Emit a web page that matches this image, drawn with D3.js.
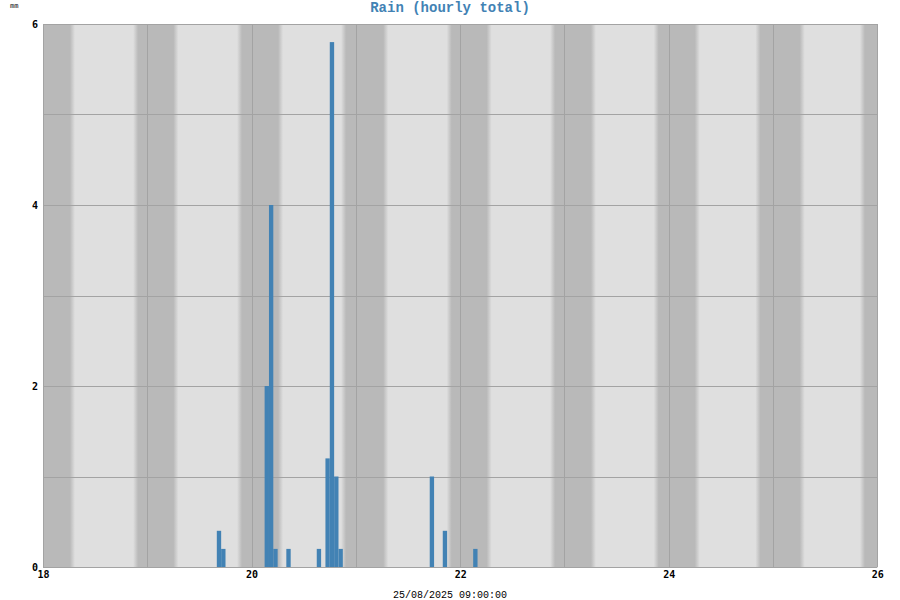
<!DOCTYPE html>
<html>
<head>
<meta charset="utf-8">
<script src="https://cdn.jsdelivr.net/npm/d3@7"></script>
<style>
  html, body { margin: 0; padding: 0; background: #ffffff; }
  svg { display: block; }
</style>
</head>
<body>
<svg id="chart" width="900" height="600"></svg>
<script>
// ---- Data ----
const title = "Rain (hourly total)";
const unitLabel = "mm";
const xAxisLabel = "25/08/2025 09:00:00";
// hourly bars: start of each hour, value in mm
const barTimes = [
  "2025-08-19 16:00", "2025-08-19 17:00",
  "2025-08-20 03:00", "2025-08-20 04:00", "2025-08-20 05:00",
  "2025-08-20 08:00", "2025-08-20 15:00",
  "2025-08-20 17:00", "2025-08-20 18:00", "2025-08-20 19:00", "2025-08-20 20:00",
  "2025-08-21 17:00", "2025-08-21 20:00",
  "2025-08-22 03:00"
];
const barValues = [0.4, 0.2, 2.0, 4.0, 0.2, 0.2, 0.2, 1.2, 5.8, 1.0, 0.2, 1.0, 0.4, 0.2];
const xDomain = ["2025-08-18 00:00", "2025-08-26 00:00"];
const xTickLabels = ["18", "20", "22", "24", "26"];
const yTicks = [0, 2, 4, 6];
const yDomain = [0, 6];
// day/night shading: day dates and approx. sunrise/sunset hours
const days = ["2025-08-18", "2025-08-19", "2025-08-20", "2025-08-21", "2025-08-22", "2025-08-23", "2025-08-24", "2025-08-25"];
const sunriseHours = [6.2, 6.0, 6.1, 6.3, 6.1, 6.1, 6.0, 6.15];
const sunsetHours = [20.75, 20.65, 20.6, 20.9, 20.7, 20.55, 19.95, 20.0];
const twilightHours = 1.15;

// ---- Layout ----
const W = 900, H = 600;
const m = { left: 43, right: 900 - 877.3, top: 24, bottom: 600 - 567 };
const pw = W - m.left - m.right, ph = H - m.top - m.bottom;

const parse = d3.utcParse("%Y-%m-%d %H:%M");
const parseDay = d3.utcParse("%Y-%m-%d");

const x = d3.scaleUtc().domain(xDomain.map(parse)).range([m.left, m.left + pw]);
const y = d3.scaleLinear().domain(yDomain).range([m.top + ph, m.top]);

const svg = d3.select("#chart");
const defs = svg.append("defs");

const DARK = "#b9b9b9", LIGHT = "#dfdfdf";
// Build gradient stops for day/night shading
const grad = defs.append("linearGradient")
  .attr("id", "daynight")
  .attr("gradientUnits", "userSpaceOnUse")
  .attr("x1", m.left).attr("x2", m.left + pw)
  .attr("y1", 0).attr("y2", 0);
const off = t => (x(t) - m.left) / pw;
const stops = [];
days.forEach((d, i) => {
  const base = parseDay(d);
  const h = hh => new Date(base.getTime() + hh * 3600e3);
  stops.push([off(h(sunriseHours[i])), DARK]);
  stops.push([off(h(sunriseHours[i] + twilightHours)), LIGHT]);
  stops.push([off(h(sunsetHours[i])), LIGHT]);
  stops.push([off(h(sunsetHours[i] + twilightHours)), DARK]);
});
grad.append("stop").attr("offset", 0).attr("stop-color", DARK);
stops.forEach(s => grad.append("stop").attr("offset", Math.max(0, Math.min(1, s[0]))).attr("stop-color", s[1]));
grad.append("stop").attr("offset", 1).attr("stop-color", DARK);

svg.append("rect")
  .attr("x", m.left).attr("y", m.top)
  .attr("width", pw).attr("height", ph)
  .attr("fill", "url(#daynight)");

// Grid
const GRID = "#a3a3a3";
const dayTicks = d3.utcDay.range(parse(xDomain[0]), d3.utcDay.offset(parse(xDomain[1]), 1));
svg.append("g").selectAll("line").data(dayTicks).join("line")
  .attr("x1", d => Math.round(x(d)) + 0.5).attr("x2", d => Math.round(x(d)) + 0.5)
  .attr("y1", m.top).attr("y2", m.top + ph)
  .attr("stroke", GRID).attr("stroke-width", 1);
const yGrid = d3.range(yDomain[0], yDomain[1] + 1, 1);
svg.append("g").selectAll("line").data(yGrid).join("line")
  .attr("x1", m.left).attr("x2", m.left + pw)
  .attr("y1", d => Math.round(y(d)) + 0.5).attr("y2", d => Math.round(y(d)) + 0.5)
  .attr("stroke", GRID).attr("stroke-width", 1);

// Bars
const bars = barTimes.map((t, i) => ({ t: parse(t), v: barValues[i] }));
svg.append("g").selectAll("rect").data(bars).join("rect")
  .attr("x", d => x(d.t))
  .attr("width", d => x(d3.utcHour.offset(d.t, 1)) - x(d.t))
  .attr("y", d => y(d.v))
  .attr("height", d => y(0) - y(d.v))
  .attr("fill", "#4282b4");

// Axes (labels only, using d3 axes)
const xTickDates = xTickLabels.map(l => parse("2025-08-" + l.padStart(2, "0") + " 00:00"));
const xAxis = d3.axisBottom(x).tickValues(xTickDates)
  .tickFormat((d, i) => xTickLabels[i]).tickSize(0).tickPadding(4);
const gx = svg.append("g").attr("transform", `translate(0,${m.top + ph})`).call(xAxis);
gx.select(".domain").remove();
gx.selectAll("text")
  .attr("font-family", "'DejaVu Sans Mono', monospace")
  .attr("font-weight", "bold").attr("font-size", 10).attr("fill", "#000");

const yAxis = d3.axisLeft(y).tickValues(yTicks).tickFormat(d3.format("d")).tickSize(0).tickPadding(5);
const gy = svg.append("g").attr("transform", `translate(${m.left},0)`).call(yAxis);
gy.select(".domain").remove();
gy.selectAll("text")
  .attr("font-family", "'DejaVu Sans Mono', monospace")
  .attr("font-weight", "bold").attr("font-size", 10).attr("fill", "#000");

// Title
svg.append("text")
  .attr("x", 450).attr("y", 12)
  .attr("text-anchor", "middle")
  .attr("font-family", "'Liberation Mono', monospace")
  .attr("font-weight", "bold").attr("font-size", 14)
  .attr("fill", "#4282b4")
  .text(title);

// Unit label
svg.append("text")
  .attr("x", 10).attr("y", 8)
  .attr("font-family", "'DejaVu Sans Mono', monospace")
  .attr("font-size", 7).attr("fill", "#000")
  .text(unitLabel);

// X axis label
svg.append("text")
  .attr("x", 450).attr("y", 598)
  .attr("text-anchor", "middle")
  .attr("font-family", "'Liberation Mono', monospace")
  .attr("font-size", 10).attr("fill", "#000")
  .text(xAxisLabel);
</script>
</body>
</html>
